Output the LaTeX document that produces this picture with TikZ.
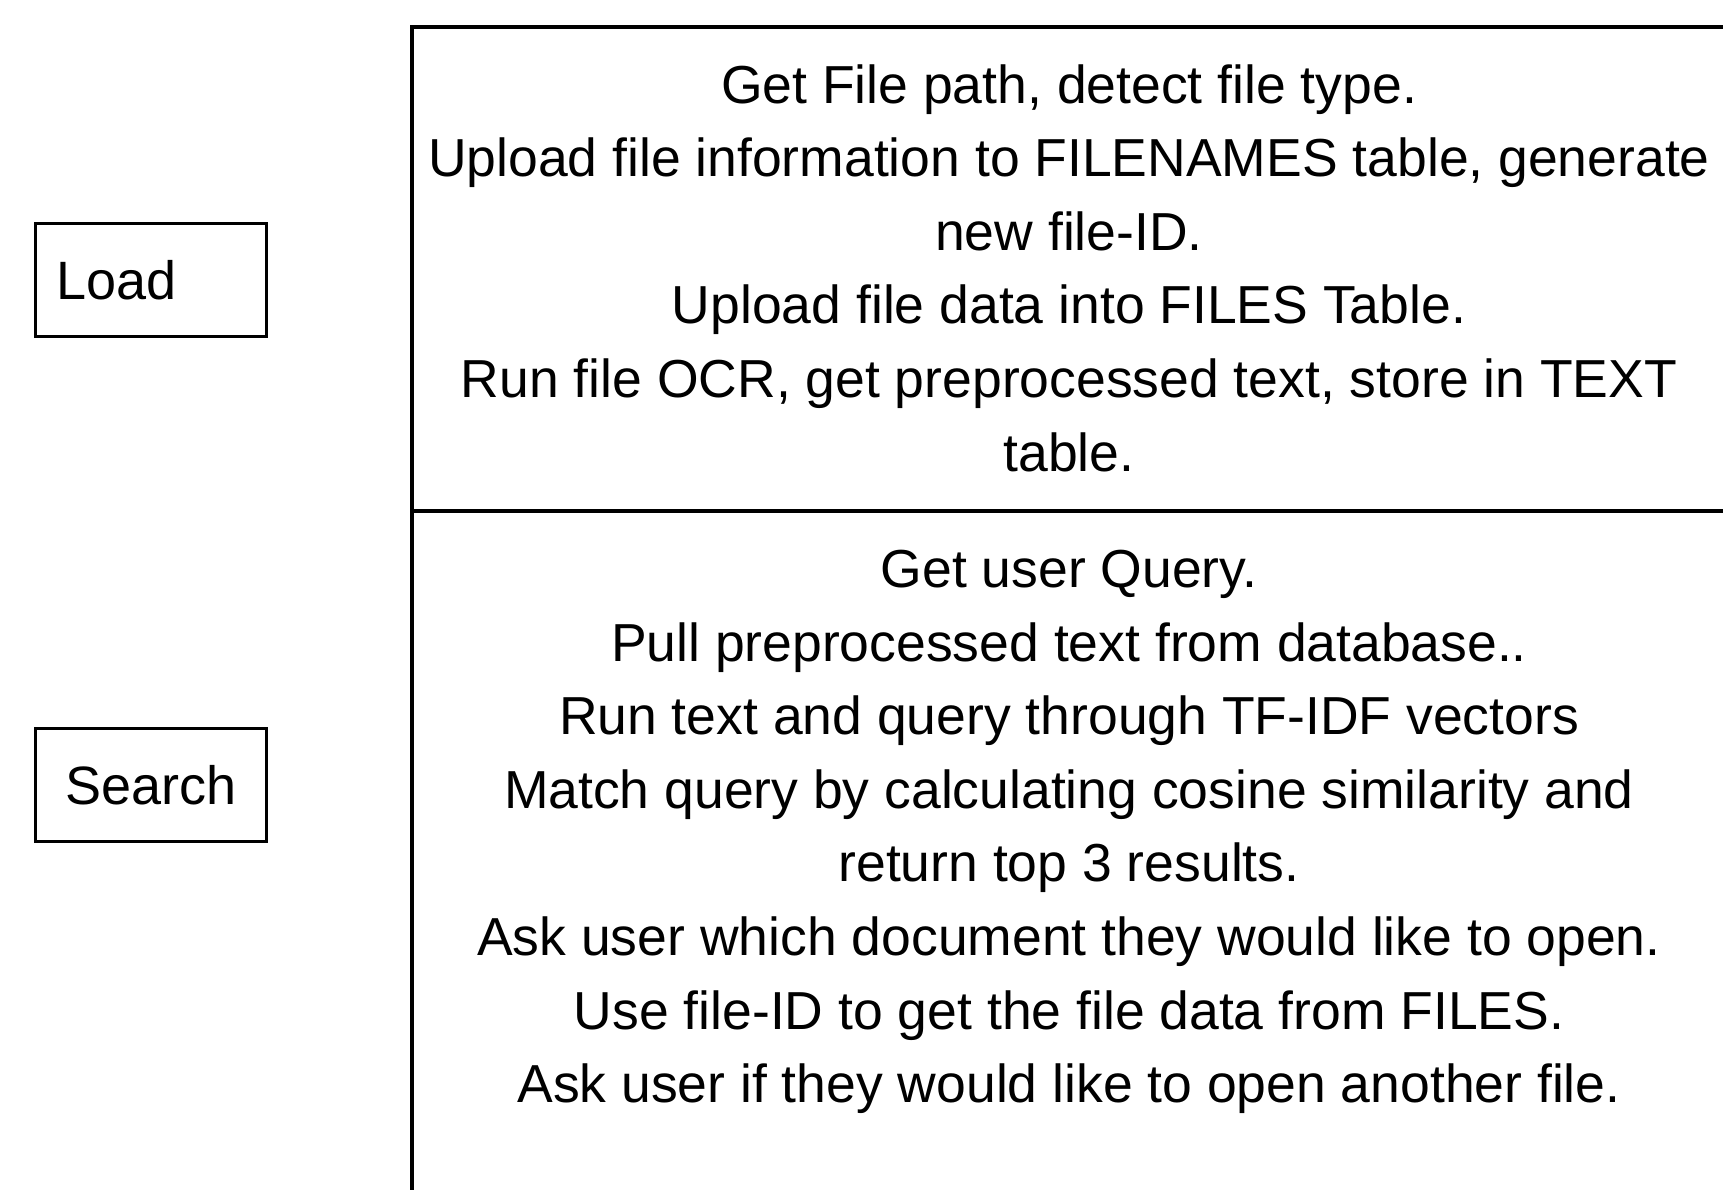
\documentclass[tikz,border=0pt]{standalone}
\usepackage{fontspec}
\setmainfont{Liberation Sans}
\begin{document}
\begin{tikzpicture}[x=1pt,y=-1pt,
  frame/.style={line width=3.2pt},
  lbl/.style={draw,line width=3.2pt,minimum width=231pt,minimum height=113pt,font=\fontsize{54}{60}\selectfont},
  body/.style={align=center,inner sep=0pt,font=\fontsize{53.5}{73.6}\selectfont}]
\useasboundingbox (0,0) rectangle (1723,1190);
\fill[white] (0,0) rectangle (1723,1190);
% frame of the table
\coordinate (tl) at (412,27);
\coordinate (tr) at (1725,27);
\coordinate (bl) at (412,1192);
\coordinate (ml) at (412,511);
\coordinate (mr) at (1725,511);
\draw[frame] (tr) -- (tl) -- (bl);
\draw[frame] (ml) -- (mr);
% labels
\node[lbl,text width=189pt,inner xsep=20pt,align=left] (load) at (151,280) {Load};
\node[lbl,align=center] (search) at (151,785) {Search};
% texts
\node[body] (loadtxt) at (1069,268) {Get File path, detect file type.\\
Upload file information to FILENAMES table, generate\\
new file-ID.\\
Upload file data into FILES Table.\\
Run file OCR, get preprocessed text, store in TEXT\\
table.};
\node[body] (searchtxt) at (1069,832) {Get user Query.\\
Pull preprocessed text from database..\\
Run text and query through TF-IDF vectors\\
Match query by calculating cosine similarity and\\
return top 3 results.\\
Ask user which document they would like to open.\\
Use file-ID to get the file data from FILES.\\
Ask user if they would like to open another file.};
\end{tikzpicture}
\end{document}
